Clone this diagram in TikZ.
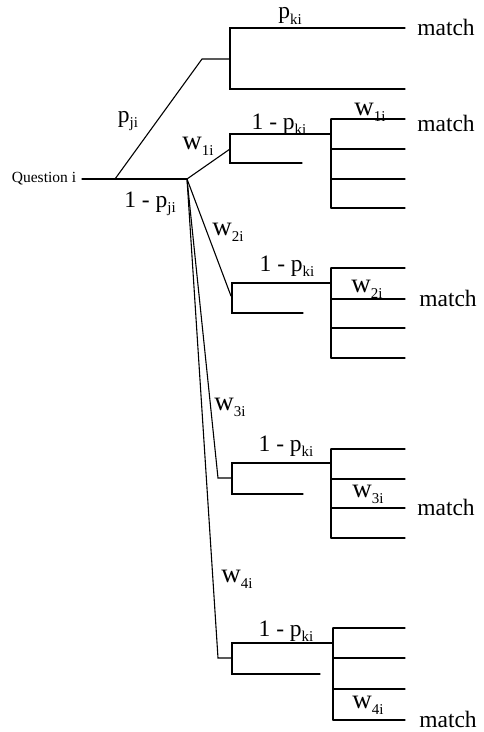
\documentclass[tikz,border=0pt]{standalone}
\usepackage{fontspec}
\setmainfont{Liberation Serif}
\newcommand\lowsub[1]{\raisebox{-0.22em}{\fontsize{15}{15}\selectfont #1}}
\tikzset{
  branch/.style={line width=1.1pt, line cap=round},
  lbl/.style={font=\fontsize{23.5}{25}\selectfont, inner sep=0pt},
  wlbl/.style={font=\fontsize{27}{29}\selectfont, inner sep=0pt},
  qlbl/.style={font=\fontsize{15.5}{17}\selectfont, inner sep=0pt},
}
\begin{document}
\begin{tikzpicture}[x=1pt,y=-1pt]
\useasboundingbox (0,0) rectangle (483,732);

% root and first split
\node[qlbl] (q) at (44,179) {Question i};
\coordinate (r0) at (82,179);
\coordinate (rs) at (115,179);
\coordinate (n)  at (187,179);
\draw[branch] (r0) -- (n);

% upper branch p_ji
\coordinate (u1) at (202,59);
\coordinate (u2) at (230,59);
\coordinate (ut) at (230,28);
\coordinate (ub) at (230,89);
\coordinate (ute) at (405,28);
\coordinate (ube) at (405,89);
\draw[branch] (rs) -- (u1) -- (u2);
\draw[branch] (ute) -- (ut) -- (ub) -- (ube);

% branch w_1i
\coordinate (a0) at (230,149);
\coordinate (at) at (230,134);
\coordinate (ab) at (230,163);
\coordinate (ab2) at (302,163);
\coordinate (ak) at (331,134);
\draw[branch] (n) -- (a0);
\draw[branch] (ak) -- (at) -- (ab) -- (ab2);
\coordinate (av1) at (331,119);
\coordinate (av4) at (331,208);
\draw[branch] (av1) -- (av4);
\foreach \y [count=\i] in {119,149,179,208} {
  \coordinate (a\i) at (331,\y);
  \coordinate (ae\i) at (405,\y);
  \draw[branch] (a\i) -- (ae\i);
}

% branch w_2i
\coordinate (b0) at (231,296);
\coordinate (bt) at (232,283);
\coordinate (bb) at (232,313);
\coordinate (bb2) at (303,313);
\coordinate (bk) at (331,283);
\draw[branch] (n) -- (b0);
\draw[branch] (bk) -- (bt) -- (bb) -- (bb2);
\coordinate (bv1) at (331,268);
\coordinate (bv4) at (331,358);
\draw[branch] (bv1) -- (bv4);
\foreach \y [count=\i] in {268,299,328,358} {
  \coordinate (b\i) at (331,\y);
  \coordinate (be\i) at (405,\y);
  \draw[branch] (b\i) -- (be\i);
}

% branch w_3i
\coordinate (c0) at (218,478);
\coordinate (cm) at (232,478);
\coordinate (ct) at (232,463);
\coordinate (cb) at (232,494);
\coordinate (cb2) at (303,494);
\coordinate (ck) at (331,463);
\draw[branch] (n) -- (c0) -- (cm);
\draw[branch] (ck) -- (ct) -- (cb) -- (cb2);
\coordinate (cv1) at (331,449);
\coordinate (cv4) at (331,538);
\draw[branch] (cv1) -- (cv4);
\foreach \y [count=\i] in {449,479,508,538} {
  \coordinate (c\i) at (331,\y);
  \coordinate (ce\i) at (405,\y);
  \draw[branch] (c\i) -- (ce\i);
}

% branch w_4i
\coordinate (d0) at (218,658);
\coordinate (dm) at (232,658);
\coordinate (dt) at (232,643);
\coordinate (db) at (232,674);
\coordinate (db2) at (320,674);
\coordinate (dk) at (333,643);
\draw[branch] (n) -- (d0) -- (dm);
\draw[branch] (dk) -- (dt) -- (db) -- (db2);
\coordinate (dv1) at (333,628);
\coordinate (dv4) at (333,720);
\draw[branch] (dv1) -- (dv4);
\foreach \y [count=\i] in {628,658,689,720} {
  \coordinate (d\i) at (333,\y);
  \coordinate (de\i) at (405,\y);
  \draw[branch] (d\i) -- (de\i);
}

% probabilities
\node[lbl] (lpj)  at (128,121) {p\lowsub{ji}};
\node[lbl] (lqj)  at (150,204) {1 - p\lowsub{ji}};
\node[lbl] (lpk)  at (290,16)  {p\lowsub{ki}};
\node[lbl] (lqk1) at (279,124) {1 - p\lowsub{ki}};
\node[lbl] (lqk2) at (287,266) {1 - p\lowsub{ki}};
\node[lbl] (lqk3) at (286,446) {1 - p\lowsub{ki}};
\node[lbl] (lqk4) at (286,631) {1 - p\lowsub{ki}};

% weights
\node[wlbl] (lw1) at (198,146) {w\lowsub{1i}};
\node[wlbl] (lw2) at (228,232) {w\lowsub{2i}};
\node[wlbl] (lw3) at (230,407) {w\lowsub{3i}};
\node[wlbl] (lw4) at (237,579) {w\lowsub{4i}};
\node[wlbl] (lw1b) at (370,112) {w\lowsub{1i}};
\node[wlbl] (lw2b) at (367,289) {w\lowsub{2i}};
\node[wlbl] (lw3b) at (368,494) {w\lowsub{3i}};
\node[wlbl] (lw4b) at (368,705) {w\lowsub{4i}};

% outcomes
\node[lbl] (m1) at (446,27)  {match};
\node[lbl] (m2) at (446,123) {match};
\node[lbl] (m3) at (448,298) {match};
\node[lbl] (m4) at (446,507) {match};
\node[lbl] (m5) at (448,719) {match};
\end{tikzpicture}
\end{document}
